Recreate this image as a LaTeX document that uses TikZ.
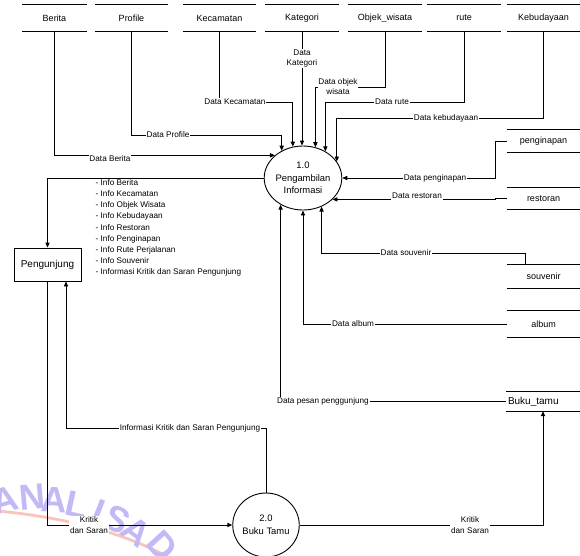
\documentclass[tikz,border=0pt]{standalone}
\usepackage{fontspec}
\setmainfont{Liberation Sans}
\usetikzlibrary{arrows.meta,shapes.geometric,calc}
\definecolor{wm}{RGB}{195,185,245}
\definecolor{wmred}{RGB}{252,195,190}
\begin{document}
\begin{tikzpicture}[x=1pt,y=-1pt,
  line/.style={draw=black, line width=0.9pt},
  flow/.style={line, -{Triangle[length=5pt,width=4.2pt]}},
  lbl/.style={fill=white, inner sep=0.8pt, font=\fontsize{8.2}{10.8}\selectfont, align=center},
  store/.style={minimum height=26pt, inner sep=0pt, font=\fontsize{9}{11}\selectfont},
  proc/.style={ellipse, draw, line width=0.9pt, minimum width=59pt, minimum height=64pt, inner sep=0pt, align=center, font=\fontsize{9.4}{12.5}\selectfont},
  ent/.style={draw, line width=0.9pt, minimum width=67pt, minimum height=33pt, font=\fontsize{10}{12}\selectfont},
  wmletter/.style={text=wm, font=\fontsize{36}{36}\selectfont\bfseries, inner sep=0pt}
]
\useasboundingbox (0,0) rectangle (580,555);
\fill[white] (0,0) rectangle (580,555);

% watermark
\draw[wmred, line width=2.8pt] (-2,511) .. controls (50,516) and (115,528) .. (168,557);
\foreach \ch/\x/\y/\r in {A/5/500/15,N/32/497/5,A/54/500/-3.4,L/77/505/-12.4,I/99/512/-21.4,S/117/519/-28.8,A/136/532/-37.3,D/162/546/-47.8}
  \node[wmletter, rotate=\r] at (\x,\y) {\ch};

% top data stores
\node[store, minimum width=65pt] (berita) at (54.5,18) {Berita};
\node[store, minimum width=73pt] (profile) at (131.5,18) {Profile};
\node[store, minimum width=73pt] (kecamatan) at (219.5,18) {Kecamatan};
\node[store, minimum width=74pt] (kategori) at (302,18) {Kategori};
\node[store, minimum width=74pt] (objek) at (385,18) {Objek\_wisata};
\node[store, minimum width=74pt] (rute) at (464,18) {rute};
\node[store, minimum width=73pt] (kebudayaan) at (543.5,18) {Kebudayaan};

% right data stores
\node[store, minimum width=73pt, minimum height=22pt] (pengi) at (543.5,141) {penginapan};
\node[store, minimum width=73pt, minimum height=21pt] (resto) at (543.5,198.5) {restoran};
\node[store, minimum width=73pt, minimum height=23pt] (souv) at (543.5,276.5) {souvenir};
\node[store, minimum width=73pt, minimum height=26pt] (album) at (543.5,324) {album};
\node[store, font=\fontsize{10}{12}\selectfont, text width=70pt, inner xsep=2pt, align=left, minimum height=19pt] (buku) at (543,401.5) {Buku\_tamu};

\foreach \s in {berita,profile,kecamatan,kategori,objek,rute,kebudayaan,pengi,resto,souv,album,buku}
  \draw[line] (\s.north west) -- (\s.north east) (\s.south west) -- (\s.south east);

% processes and entity
\node[proc] (p1) at (303,178) {1.0\\Pengambilan\\Informasi};
\node[proc] (p2) at (266,525) {2.0\\Buku Tamu};
\node[ent] (peng) at (47.5,264.5) {Pengunjung};
\coordinate (pgin) at ([xshift=18.5pt]peng.south);

% flows into 1.0
\draw[flow] (berita.south) |- (p1.141);
\draw[flow] (profile.south) |- (p1.128 |- 0,135) -- (p1.128);
\draw[flow] (kecamatan.south) |- (p1.108 |- 0,102) -- (p1.108);
\draw[flow] (kategori.south) -- (kategori.south |- p1.north);
\draw[flow] (objek.south) |- (p1.68 |- 0,87) -- (p1.68);
\draw[flow] (rute.south) |- (p1.50 |- 0,102) -- (p1.50);
\draw[flow] (kebudayaan.south) |- (p1.26 |- 0,118) -- (p1.26);
\draw[flow] (pengi.west) -- ++(-11,0) |- (p1.east);
\draw[flow] (resto.west) -- ++(-11,0) |- (p1.-36);
\draw[flow] ([xshift=-18.5pt]souv.north) |- (p1.-57 |- 0,253) -- (p1.-57);
\draw[flow] (album.west) -| (p1.south);
\draw[flow] (buku.west) -| (p1.230);

% flows of Pengunjung / 2.0
\draw[flow] (p1.west) -| (peng.north);
\draw[flow] (peng.south) |- (p2.west);
\draw[flow] (p2.north) |- (pgin |- 0,428) -- (pgin);
\draw[flow] (p2.east) -| (buku.south);

% labels
\node[lbl] at (110,159) {Data Berita};
\node[lbl] at (168,135) {Data Profile};
\node[lbl] at (235,102) {Data Kecamatan};
\node[lbl] at (302,58.5) {Data\\Kategori};
\node[lbl] at (338,86.5) {Data objek\\wisata};
\node[lbl] at (392,102) {Data rute};
\node[lbl] at (446,118) {Data kebudayaan};
\node[lbl] at (435,178) {Data penginapan};
\node[lbl] at (417,196) {Data restoran};
\node[lbl] at (406,253) {Data souvenir};
\node[lbl] at (353,324) {Data album};
\node[lbl] at (323,401.5) {Data pesan penggunjung};
\node[lbl] at (190,428) {Informasi Kritik dan Saran Pengunjung};
\node[lbl] at (89,525) {Kritik\\dan Saran};
\node[lbl] at (470,525) {Kritik\\dan Saran};

\node[anchor=north west, align=left, inner sep=0pt, font=\fontsize{8.2}{11.1}\selectfont] (info) at (95.5,179.5)
 {- Info Berita\\- Info Kecamatan\\- Info Objek Wisata\\- Info Kebudayaan\\- Info Restoran\\- Info Penginapan\\- Info Rute Perjalanan\\- Info Souvenir\\- Informasi Kritik dan Saran Pengunjung};
\end{tikzpicture}
\end{document}
